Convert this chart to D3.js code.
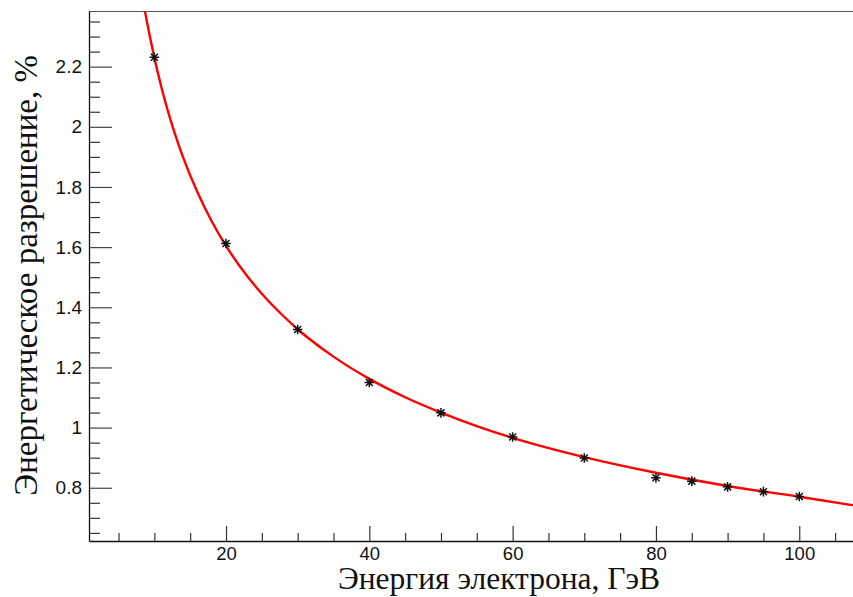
<!DOCTYPE html>
<html><head><meta charset="utf-8">
<script src="https://cdn.jsdelivr.net/npm/d3@7"></script>
<style>body{margin:0;background:#fff}svg{display:block}</style>
</head><body>
<script>
// Data
const energies = [10, 20, 30, 40, 50, 60, 70, 80, 85, 90, 95, 100];
const resolution = [2.231, 1.612, 1.326, 1.150, 1.049, 0.969, 0.899, 0.833, 0.822, 0.803, 0.787, 0.771];
// Fit curve
const fitE = [8.7, 9, 10, 11, 12, 13, 14, 16, 18, 20, 22, 25, 28, 30, 35, 40, 45, 50, 55, 60, 70, 80, 90, 100, 107.5];
const fitR = [2.383, 2.345, 2.230, 2.130, 2.044, 1.967, 1.899, 1.783, 1.686, 1.604, 1.534, 1.445, 1.371, 1.327, 1.236, 1.162, 1.101, 1.050, 1.005, 0.966, 0.902, 0.850, 0.806, 0.770, 0.742];
const xMajorTicks = [20, 40, 60, 80, 100];
const xMinorTicks = [5, 10, 15, 25, 30, 35, 45, 50, 55, 65, 70, 75, 85, 90, 95, 105];
const yMajorTicks = [0.8, 1.0, 1.2, 1.4, 1.6, 1.8, 2.0, 2.2];
const yTickLabels = ["0.8", "1", "1.2", "1.4", "1.6", "1.8", "2", "2.2"];
const xTitle = "Энергия электрона, ГэВ";
const yTitle = "Энергетическое разрешение, %";

const W = 853, H = 597;
const L = 89, R = 853, T = 11, B = 541;
const svg = d3.select("body").append("svg").attr("width", W).attr("height", H);

const x = d3.scaleLinear().domain([0.88, 107.5]).range([L, R]);
const y = d3.scaleLinear().domain([0.623, 2.385]).range([B, T]);

const yMinor = d3.range(0.65, 2.40, 0.05).filter(v => !yMajorTicks.some(m => Math.abs(m - v) < 1e-6));

svg.append("defs").append("clipPath").attr("id", "clip")
  .append("rect").attr("x", L).attr("y", T).attr("width", R - L).attr("height", B - T);

// Frame top line
svg.append("line").attr("x1", L).attr("x2", R).attr("y1", T + 0.5).attr("y2", T + 0.5)
  .attr("stroke", "#555").attr("stroke-width", 1.2);

// X axis
const gx = svg.append("g").attr("transform", `translate(0,${B})`);
gx.call(d3.axisBottom(x).tickValues(xMajorTicks).tickSizeInner(-15).tickSizeOuter(0).tickPadding(6).tickFormat(d3.format("d")));
gx.call(g => g.select(".domain").attr("stroke", "#111").attr("stroke-width", 1.3));
gx.selectAll(".tick line").attr("stroke", "#333").attr("stroke-width", 1.2);
gx.selectAll(".tick text").attr("font-family", "Liberation Sans, Arial, sans-serif").attr("font-size", 18.5).attr("fill", "#111");
const gx2 = svg.append("g").attr("transform", `translate(0,${B})`);
gx2.call(d3.axisBottom(x).tickValues(xMinorTicks).tickSizeInner(-8).tickSizeOuter(0).tickFormat(""));
gx2.select(".domain").remove();
gx2.selectAll(".tick line").attr("stroke", "#333").attr("stroke-width", 1.2);

// Y axis
const gy = svg.append("g").attr("transform", `translate(${L},0)`);
gy.call(d3.axisLeft(y).tickValues(yMajorTicks).tickSizeInner(-23).tickSizeOuter(0).tickPadding(7)
  .tickFormat((d, i) => yTickLabels[i]));
gy.call(g => g.select(".domain").attr("stroke", "#111").attr("stroke-width", 1.3));
gy.selectAll(".tick line").attr("stroke", "#444").attr("stroke-width", 1.2);
gy.selectAll(".tick text").attr("font-family", "Liberation Sans, Arial, sans-serif").attr("font-size", 19).attr("fill", "#111");
const gy2 = svg.append("g").attr("transform", `translate(${L},0)`);
gy2.call(d3.axisLeft(y).tickValues(yMinor).tickSizeInner(-11).tickSizeOuter(0).tickFormat(""));
gy2.select(".domain").remove();
gy2.selectAll(".tick line").attr("stroke", "#333").attr("stroke-width", 1.2);

// Fit curve
const line = d3.line().x((d, i) => x(fitE[i])).y(d => y(d)).curve(d3.curveMonotoneX);
svg.append("path").attr("clip-path", "url(#clip)").attr("d", line(fitR))
  .attr("fill", "none").attr("stroke", "#f00").attr("stroke-width", 2.4);

// Star markers
const s = 4.8, d2 = 3.5;
const starPath = `M${-s},0L${s},0M0,${-s}L0,${s}M${-d2},${-d2}L${d2},${d2}M${-d2},${d2}L${d2},${-d2}`;
svg.append("g").selectAll("path").data(resolution).join("path")
  .attr("transform", (d, i) => `translate(${x(energies[i])},${y(d)})`)
  .attr("d", starPath).attr("stroke", "#111").attr("stroke-width", 1.5).attr("fill", "none");

// Titles
svg.append("text").attr("x", 660).attr("y", 589).attr("text-anchor", "end")
  .attr("font-family", "Liberation Serif, Times New Roman, serif").attr("font-size", 31.5).attr("fill", "#111")
  .text(xTitle);
svg.append("text").attr("transform", "translate(37,55) rotate(-90)").attr("text-anchor", "end")
  .attr("font-family", "Liberation Serif, Times New Roman, serif").attr("font-size", 33).attr("fill", "#111")
  .text(yTitle);
</script>
</body></html>
